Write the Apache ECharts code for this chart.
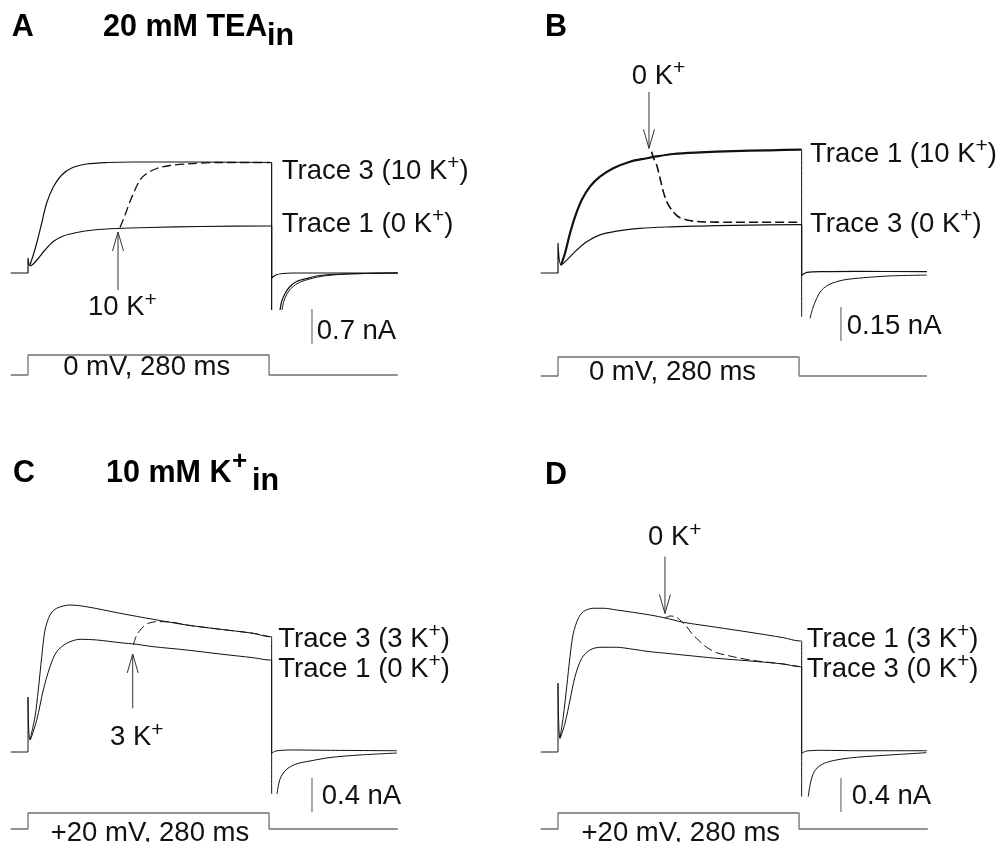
<!DOCTYPE html>
<html>
<head>
<meta charset="utf-8">
<script src="https://cdn.jsdelivr.net/npm/echarts@6.0.0/dist/echarts.min.js"></script>
<style>
  html, body { margin: 0; background: #fff; }
  #chart { width: 999px; height: 842px; }
</style>
</head>
<body>
<div id="chart"></div>
<script>
// time in ms (0 = start of the step), current in nA, voltage in mV
// the second trace of each pair starts after the shared capacitive spike

// ---- panel A : 20 mM TEA in ----
var A_trace1 = [[-20,0],[0,0],[0,0.30],[2.3,0.14],[6.1,0.18],[11.9,0.29],[19.7,0.46],[29.3,0.63],[40.9,0.74],[56.4,0.81],[75.6,0.86],[102.7,0.89],[141,0.91],[199,0.93],[280,0.94],[282,0.94],[282,-0.10],[287,-0.04],[294.5,-0.01],[306,0],[345,0],[428,0]];
var A_trace3 = [[2.3,0.16],[6.1,0.36],[10.1,0.60],[15.9,1.00],[21.6,1.40],[29.3,1.72],[39,1.96],[50.6,2.10],[67.9,2.18],[91,2.21],[122,2.22],[199,2.22],[280,2.21],[282,2.21],[282,-0.74]];
var A_trace3Tail = [[291.7,-0.74],[293.6,-0.57],[297.5,-0.41],[303.2,-0.27],[311,-0.17],[322.5,-0.11],[338,-0.05],[365,-0.02],[428,0]];
var A_trace2 = [[106.5,0.91],[112.3,1.16],[118.1,1.43],[123.8,1.66],[129.6,1.86],[137.4,1.99],[149,2.09],[164,2.15],[184,2.18],[218,2.21],[280,2.21]];
var A_trace2Tail = [[294,-0.74],[296,-0.57],[300,-0.41],[306,-0.28],[314,-0.19],[326,-0.12],[342,-0.06],[370,-0.02],[428,0]];
var A_volt = [[-20,-80],[0,-80],[0,0],[279,0],[279,-80],[428,-80]];
var A_scale = [328.7, -0.72, -1.42];   // t, from, to  (0.7 nA)
var A_arrow = [104.2, -0.34, 0.82];    // t, tail, tip

// ---- panel B ----
var B_trace1 = [[3.5,0.035],[8.1,0.087],[13.9,0.175],[19.7,0.248],[27.4,0.322],[37,0.381],[48.6,0.425],[64,0.462],[83.3,0.491],[102.7,0.506],[112.3,0.513],[133.4,0.525],[164.4,0.532],[202.9,0.538],[241.6,0.541],[280,0.544],[282,0.544]];
var B_trace1Drop = [[282,0.544],[282,-0.193]];
var B_trace1Tail = [[291.7,-0.20],[294.8,-0.156],[299.4,-0.112],[305.2,-0.075],[314.8,-0.049],[330.2,-0.031],[353.3,-0.021],[384,-0.013],[427,-0.009]];
var B_trace3 = [[-20,0],[0,0],[0,0.132],[3.5,0.035],[10.1,0.057],[21.6,0.101],[33.2,0.138],[48.6,0.168],[67.9,0.185],[94.9,0.197],[125.8,0.203],[164.4,0.207],[202.9,0.210],[280,0.213],[282,0.213],[282,-0.01],[288,0.003],[308,0.006],[346,0.007],[427,0.006]];
var B_trace2 = [[108.4,0.535],[110.3,0.51],[114.2,0.476],[118.1,0.418],[121.9,0.359],[125.8,0.315],[131.6,0.278],[139.2,0.248],[149,0.234],[164.4,0.226],[202.9,0.224],[280,0.224]];
var B_volt = [[-20,-80],[0,-80],[0,0],[279,0],[279,-80],[427,-80]];
var B_scale = [327.5, -0.15, -0.30];
var B_arrow = [105.3, 0.798, 0.55];

// ---- panel C : 10 mM K+ in ----
var C_trace1 = [[-20,0],[0,0],[0,0.647],[2.3,0.141],[10.1,0.376],[17.7,0.729],[25.5,1.004],[33.2,1.18],[44.8,1.279],[60.2,1.326],[79.5,1.318],[106.5,1.286],[125.8,1.267],[145,1.239],[183.7,1.2],[222.2,1.153],[260.8,1.109],[280,1.082],[282,1.082],[282,-0.015],[287,0.012],[306,0.024],[345,0.02],[427,0.015]];
var C_trace3 = [[2.3,0.141],[8.1,0.415],[11.9,0.729],[15.9,1.121],[19.7,1.435],[25.5,1.612],[33.2,1.691],[48.6,1.729],[67.9,1.709],[106.5,1.632],[145,1.561],[183.7,1.494],[222.2,1.444],[260.8,1.396],[280,1.356],[282,1.356],[282,-0.494]];
var C_trace3Tail = [[288.2,-0.494],[291.7,-0.318],[298.4,-0.212],[310.2,-0.141],[326.4,-0.106],[349.5,-0.065],[384.3,-0.035],[427,-0.012]];
var C_trace2 = [[121.9,1.259],[125.8,1.376],[131.6,1.455],[139.2,1.514],[149,1.533],[164.4,1.53],[183.7,1.494],[222.2,1.444],[260.8,1.396],[280,1.356]];
var C_volt = [[-20,-80],[0,-80],[0,20],[279,20],[279,-80],[428,-80]];
var C_scale = [328.7, -0.306, -0.706];
var C_arrow = [121.2, 0.514, 1.153];

// ---- panel D ----
var D_trace1 = [[2.3,0.161],[6.1,0.415],[10.1,0.768],[13.9,1.121],[17.7,1.396],[23.5,1.572],[29.3,1.651],[40.9,1.691],[52.4,1.691],[67.9,1.671],[106.5,1.612],[125.8,1.573],[145,1.526],[183.7,1.467],[222.2,1.408],[260.8,1.345],[280,1.306],[282,1.306],[282,-0.526]];
var D_trace1Tail = [[289.7,-0.526],[291.7,-0.388],[295.6,-0.251],[301.4,-0.173],[311,-0.122],[326.4,-0.086],[345.6,-0.062],[384,-0.035],[426.5,-0.008]];
var D_trace3 = [[-20,0],[0,0],[0,0.81],[2.3,0.161],[8.1,0.338],[13.9,0.612],[19.7,0.886],[27.4,1.102],[37,1.2],[48.6,1.232],[67.9,1.232],[87.2,1.208],[106.5,1.18],[125.8,1.161],[145,1.141],[183.7,1.102],[222.2,1.071],[260.8,1.035],[280,1.004],[282,1.004],[282,-0.015],[288,0.012],[307,0.02],[346,0.015],[427,0.015]];
var D_trace2 = [[123.8,1.573],[129.6,1.6],[137.4,1.585],[143.2,1.533],[149,1.474],[154.7,1.396],[162.4,1.318],[172.1,1.232],[183.7,1.168],[199.1,1.129],[222.2,1.082],[260.8,1.035],[280,1.004]];
var D_volt = [[-20,-80],[0,-80],[0,20],[279,20],[279,-80],[428,-80]];
var D_scale = [327.5, -0.306, -0.706];
var D_arrow = [123.8, 2.30, 1.63];

var FONT = '"Liberation Sans", Arial, sans-serif';
var INK = '#111';

// layout of each panel: where t=0 / I=0 sit, pixels per ms and per nA
var panels = [
    { x0: 28,  y0: 273, kx: 0.864, ky: 50,    yMin: -1.6, yMax: 3.0, vTop: 355, vBase: 375,
      solid: [[A_trace1, 1.2], [A_trace3, 1.2], [A_trace3Tail, 1.2], [A_trace2Tail, 1]],
      dashed: [A_trace2, 1.3], volt: A_volt, scale: A_scale, arrow: A_arrow },
    { x0: 558, y0: 273, kx: 0.864, ky: 226.7, yMin: -0.4, yMax: 1.0, vTop: 357, vBase: 376,
      solid: [[B_trace3, 1.2], [B_trace1, 2.2], [B_trace1Drop, 1], [B_trace1Tail, 1]],
      dashed: [B_trace2, 1.6], volt: B_volt, scale: B_scale, arrow: B_arrow },
    { x0: 28,  y0: 752, kx: 0.864, ky: 85,    yMin: -1.0, yMax: 2.5, vTop: 813, vBase: 829,
      solid: [[C_trace1, 1], [C_trace3, 1], [C_trace3Tail, 1]],
      dashed: [C_trace2, 1], volt: C_volt, scale: C_scale, arrow: C_arrow },
    { x0: 558, y0: 752, kx: 0.864, ky: 85,    yMin: -1.0, yMax: 2.6, vTop: 813, vBase: 829,
      solid: [[D_trace3, 1], [D_trace1, 1], [D_trace1Tail, 1]],
      dashed: [D_trace2, 1], volt: D_volt, scale: D_scale, arrow: D_arrow }
];

var T_MIN = -20, T_MAX = 430;

var grids = [], xAxes = [], yAxes = [], series = [];

function line(gi, data, color, width, type, smooth) {
    return {
        type: 'line', xAxisIndex: gi, yAxisIndex: gi, data: data,
        symbol: 'none', smooth: smooth ? 0.3 : false, clip: false, silent: true,
        lineStyle: { color: color, width: width, type: type || 'solid' }
    };
}

panels.forEach(function (p, i) {
    var left = p.x0 + T_MIN * p.kx, width = (T_MAX - T_MIN) * p.kx;
    var g = i * 2, gv = i * 2 + 1;
    grids.push({ left: left, width: width, top: p.y0 - p.yMax * p.ky, height: (p.yMax - p.yMin) * p.ky });
    grids.push({ left: left, width: width, top: p.vTop, height: p.vBase - p.vTop });
    [g, gv].forEach(function (k) {
        xAxes.push({ gridIndex: k, type: 'value', min: T_MIN, max: T_MAX, show: false });
    });
    yAxes.push({ gridIndex: g, type: 'value', min: p.yMin, max: p.yMax, show: false });
    yAxes.push({ gridIndex: gv, type: 'value', min: p.volt[0][1], max: p.volt[2][1], show: false });

    p.solid.forEach(function (s) { series.push(line(g, s[0], INK, s[1], 'solid', true)); });
    series.push(line(g, p.dashed[0], INK, p.dashed[1], [9, 4], true));
    series.push(line(gv, p.volt, '#707070', 1.3));

    var sc = p.scale;
    series.push(line(g, [[sc[0], sc[1]], [sc[0], sc[2]]], '#555', 1));

    var a = p.arrow, dir = a[2] > a[1] ? 1 : -1;
    var dt = 5.5 / p.kx, dI = 19 / p.ky;
    series.push(line(g, [[a[0], a[1]], [a[0], a[2]]], '#333', 1));
    series.push(line(g, [[a[0] - dt, a[2] - dir * dI], [a[0], a[2]], [a[0] + dt, a[2] - dir * dI]], '#333', 1));
});

// text with K^+ superscripts
function richText(str) {
    return str.split('^+').map(function (part, i, arr) {
        var out = part ? '{m|' + part + '}' : '';
        if (i < arr.length - 1) out += '{s|+}';
        return out;
    }).join('');
}
var rich = {
    m: { fontFamily: FONT, fontSize: 27.5, lineHeight: 36, fill: INK },
    s: { fontFamily: FONT, fontSize: 21, lineHeight: 20, verticalAlign: 'top', fill: INK }
};

var labels = [
    ['Trace 3 (10 K^+)', 281.7, 171], ['Trace 1 (0 K^+)', 281.7, 224], ['10 K^+', 88, 307.6], ['0.7 nA', 316.7, 331],
    ['0 K^+', 631.7, 76], ['Trace 1 (10 K^+)', 810, 154], ['Trace 3 (0 K^+)', 810, 224], ['0.15 nA', 846.7, 326],
    ['Trace 3 (3 K^+)', 278.3, 639], ['Trace 1 (0 K^+)', 278.3, 669], ['3 K^+', 110, 737.6], ['0.4 nA', 321.7, 796],
    ['0 K^+', 648, 537.6], ['Trace 1 (3 K^+)', 806.7, 639], ['Trace 3 (0 K^+)', 806.7, 669], ['0.4 nA', 851.7, 796]
];
var stepLabels = [
    ['0 mV, 280 ms', 146.7, 367.6], ['0 mV, 280 ms', 672.5, 372.6],
    ['+20 mV, 280 ms', 150, 833], ['+20 mV, 280 ms', 680.8, 833]
];
var heads = [
    ['A', 11.7, 28, 30.5], ['20 mM TEA', 103, 28, 30.5], ['in', 267, 36.5, 30.5],
    ['B', 545, 28, 30.5],
    ['C', 13, 474, 30.5], ['10 mM K', 106, 474, 30.5], ['+', 232, 462, 26], ['in', 252, 482, 30.5],
    ['D', 545, 476, 30.5]
];

var graphics = [];
labels.forEach(function (l) {
    graphics.push({ type: 'text', x: l[1], y: l[2], silent: true,
        style: { text: richText(l[0]), rich: rich, align: 'left', verticalAlign: 'middle' } });
});
stepLabels.forEach(function (l) {
    graphics.push({ type: 'text', x: l[1], y: l[2], silent: true,
        style: { text: l[0], fontFamily: FONT, fontSize: 27.5, fill: INK, align: 'center', verticalAlign: 'middle' } });
});
heads.forEach(function (h) {
    graphics.push({ type: 'text', x: h[1], y: h[2], silent: true,
        style: { text: h[0], fontFamily: FONT, fontSize: h[3], fontWeight: 'bold', fill: '#000', align: 'left', verticalAlign: 'middle' } });
});

var chart = echarts.init(document.getElementById('chart'));
chart.setOption({
    animation: false,
    backgroundColor: '#fff',
    grid: grids,
    xAxis: xAxes,
    yAxis: yAxes,
    series: series,
    graphic: graphics
});
</script>
</body>
</html>
